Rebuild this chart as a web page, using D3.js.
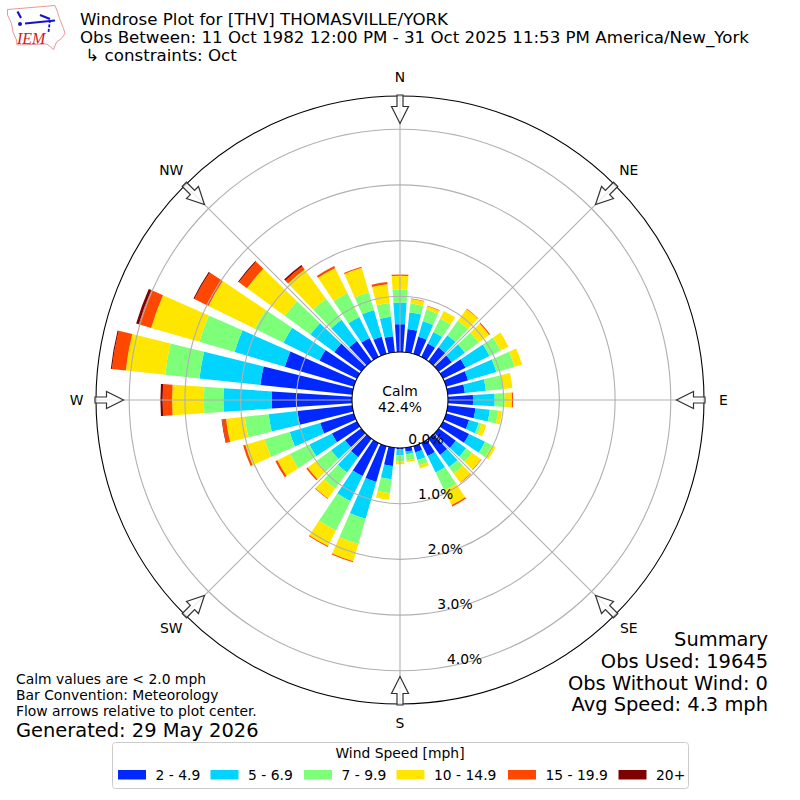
<!DOCTYPE html>
<html>
<head>
<meta charset="utf-8">
<script src="https://cdn.jsdelivr.net/npm/d3@7"></script>
<style>
    html, body { margin: 0; padding: 0; background: #fff; }
    svg { display: block; font-family: "DejaVu Sans", sans-serif; }
</style>
</head>
<body>
<svg id="chart" width="800" height="800"></svg>
<script>
// direction of each bar, degrees clockwise from north
const directions = d3.range(0, 360, 10);

// percent of obs per direction for each speed bin
const bin2to5 = [0.50, 0.42, 0.32, 0.27, 0.31, 0.29, 0.45, 0.41, 0.31, 0.45, 0.50, 0.43, 0.52, 0.38, 0.36, 0.26, 0.12, 0.07,
    0.02, 0.33, 0.67, 0.66, 0.41, 0.36, 0.50, 0.63, 0.99, 1.44, 1.66, 1.29, 0.75, 0.60, 0.45, 0.38, 0.32, 0.29];
const bin5to7 = [0.39, 0.30, 0.29, 0.23, 0.27, 0.29, 0.48, 0.53, 0.38, 0.39, 0.26, 0.18, 0.32, 0.23, 0.27, 0.33, 0.14, 0.05,
    0.11, 0.24, 0.69, 0.50, 0.34, 0.31, 0.45, 0.57, 0.52, 0.87, 1.10, 0.94, 0.72, 0.53, 0.47, 0.42, 0.50, 0.35];
const bin7to10 = [0.23, 0.16, 0.22, 0.27, 0.32, 0.31, 0.22, 0.34, 0.31, 0.18, 0.15, 0.05, 0.14, 0.13, 0.14, 0.36, 0.10, 0.11,
    0.11, 0.25, 0.47, 0.59, 0.36, 0.32, 0.39, 0.47, 0.43, 0.35, 0.62, 0.66, 0.57, 0.57, 0.47, 0.48, 0.33, 0.25];
const bin10to15 = [0.25, 0.08, 0.06, 0.15, 0.26, 0.23, 0.16, 0.14, 0.17, 0.13, 0.07, 0.09, 0.07, 0.20, 0.20, 0.29, 0.06, 0.03,
    0.05, 0.12, 0.32, 0.31, 0.22, 0.20, 0.25, 0.36, 0.34, 0.57, 0.71, 0.90, 0.93, 0.84, 0.65, 0.50, 0.46, 0.34];
const bin15to20 = [0.02, 0.01, 0.01, 0, 0.01, 0.02, 0, 0, 0, 0.02, 0, 0, 0, 0.01, 0.01, 0.03, 0, 0,
    0, 0, 0.02, 0.02, 0.01, 0.03, 0.04, 0.04, 0.07, 0.17, 0.25, 0.23, 0.28, 0.18, 0.07, 0.04, 0.02, 0.04];
const bin20up = [0, 0, 0, 0, 0, 0, 0, 0, 0, 0, 0, 0, 0, 0, 0, 0, 0, 0,
    0, 0, 0, 0, 0, 0, 0, 0, 0.01, 0.04, 0.02, 0.05, 0.02, 0.02, 0.03, 0, 0, 0];

const binLabels = ["2 - 4.9", "5 - 6.9", "7 - 9.9", "10 - 14.9", "15 - 19.9", "20+"];
const binColors = ["#0028ff", "#00d4ff", "#7dff7a", "#ffe600", "#ff4700", "#7f0000"];
const bins = [bin2to5, bin5to7, bin7to10, bin10to15, bin15to20, bin20up];

const radialTicks = [0, 1, 2, 3, 4];
const compass = [["N", 0], ["NE", 45], ["E", 90], ["SE", 135], ["S", 180], ["SW", 225], ["W", 270], ["NW", 315]];

const titleLines = [
    "Windrose Plot for [THV] THOMASVILLE/YORK",
    "Obs Between: 11 Oct 1982 12:00 PM - 31 Oct 2025 11:53 PM America/New_York",
    " \u21b3 constraints: Oct"
];
const noteLines = ["Calm values are < 2.0 mph", "Bar Convention: Meteorology", "Flow arrows relative to plot center."];
const summaryLines = ["Summary", "Obs Used: 19645", "Obs Without Wind: 0", "Avg Speed: 4.3 mph"];

const cx = 400, cy = 400;
const rad = (d) => (d * Math.PI) / 180;
const r = d3.scaleLinear().domain([0, 4.596]).range([48, 304]);
const barWidth = 7.7;

const svg = d3.select("#chart");
const plot = svg.append("g").attr("transform", `translate(${cx},${cy})`);

// stacked bars
const arc = d3.arc();
directions.forEach((dir, i) => {
    let total = 0;
    bins.forEach((bin, b) => {
        const v = bin[i];
        if (v <= 0) return;
        plot.append("path")
            .attr("fill", binColors[b])
            .attr("d", arc({
                innerRadius: r(total),
                outerRadius: r(total + v),
                startAngle: rad(dir - barWidth / 2),
                endAngle: rad(dir + barWidth / 2)
            }));
        total += v;
    });
});

// grid goes over the bars
plot.selectAll("circle.ring")
    .data(radialTicks.slice(1))
    .enter()
    .append("circle")
    .attr("class", "ring")
    .attr("r", (d) => r(d))
    .attr("fill", "none")
    .attr("stroke", "#b0b0b0")
    .attr("stroke-width", 1.1);

plot.selectAll("line.spoke")
    .data(compass)
    .enter()
    .append("line")
    .attr("class", "spoke")
    .attr("x1", (d) => 48 * Math.sin(rad(d[1])))
    .attr("y1", (d) => -48 * Math.cos(rad(d[1])))
    .attr("x2", (d) => 304 * Math.sin(rad(d[1])))
    .attr("y2", (d) => -304 * Math.cos(rad(d[1])))
    .attr("stroke", "#b0b0b0")
    .attr("stroke-width", 1.1);

plot.append("circle").attr("r", 304).attr("fill", "none").attr("stroke", "#000").attr("stroke-width", 1.1);
plot.append("circle").attr("r", 48).attr("fill", "#fff").attr("stroke", "#000").attr("stroke-width", 1.1);

// flow arrows at the rim, pointing at the center
plot.selectAll("path.flow")
    .data(compass)
    .enter()
    .append("path")
    .attr("class", "flow")
    .attr("transform", (d) => `rotate(${d[1]})`)
    .attr("d", "M-3,-305L3,-305L3,-293.5L8.5,-293.5L0,-276.5L-8.5,-293.5L-3,-293.5Z")
    .attr("fill", "#fff")
    .attr("fill-opacity", 0.75)
    .attr("stroke", "#333")
    .attr("stroke-width", 1.2);

// compass labels, the two upper diagonals sit a little higher
plot.selectAll("text.dir")
    .data(compass)
    .enter()
    .append("text")
    .attr("class", "dir")
    .attr("x", (d) => 323.5 * Math.sin(rad(d[1])))
    .attr("y", (d) => -323 * Math.cos(rad(d[1])) - (d[1] === 45 || d[1] === 315 ? 2 : 0))
    .attr("dy", "0.36em")
    .attr("text-anchor", "middle")
    .style("font-size", "13.89px")
    .text((d) => d[0]);

// radial labels sit along the 170 degree line
plot.selectAll("text.rlabel")
    .data(radialTicks)
    .enter()
    .append("text")
    .attr("class", "rlabel")
    .attr("x", (d) => r(d) * Math.sin(rad(170)))
    .attr("y", (d) => -r(d) * Math.cos(rad(170)) - 3)
    .style("font-size", "13.89px")
    .text((d) => d.toFixed(1) + "%");

plot.append("text").attr("y", -4).attr("text-anchor", "middle").style("font-size", "13.89px").text("Calm");
plot.append("text").attr("y", 12).attr("text-anchor", "middle").style("font-size", "13.89px").text("42.4%");

// header
svg.selectAll("text.title")
    .data(titleLines)
    .enter()
    .append("text")
    .attr("class", "title")
    .attr("x", 80)
    .attr("y", (d, i) => 25 + i * 18)
    .attr("xml:space", "preserve")
    .style("white-space", "pre")
    .style("font-size", "16.67px")
    .text((d) => d);

// footer notes
svg.selectAll("text.note")
    .data(noteLines)
    .enter()
    .append("text")
    .attr("class", "note")
    .attr("x", 16)
    .attr("y", (d, i) => 683.8 + i * 15.9)
    .style("font-size", "13.89px")
    .text((d) => d);

svg.append("text").attr("x", 16).attr("y", 737).style("font-size", "19.44px").text("Generated: 29 May 2026");

svg.selectAll("text.summary")
    .data(summaryLines)
    .enter()
    .append("text")
    .attr("class", "summary")
    .attr("x", 768)
    .attr("y", (d, i) => 646 + i * 21.8)
    .attr("text-anchor", "end")
    .style("font-size", "19.44px")
    .text((d) => d);

// legend
const legendX = [118, 210.5, 304, 396.5, 508, 618.5];
const legend = svg.append("g");
legend.append("rect")
    .attr("x", 112.5).attr("y", 742.5).attr("width", 576).attr("height", 46).attr("rx", 3)
    .attr("fill", "#fff").attr("stroke", "#ccc");
legend.append("text")
    .attr("x", 400).attr("y", 758).attr("text-anchor", "middle")
    .style("font-size", "13.89px").text("Wind Speed [mph]");
binLabels.forEach((label, i) => {
    legend.append("rect")
        .attr("x", legendX[i]).attr("y", 770).attr("width", 28).attr("height", 9.5)
        .attr("fill", binColors[i]);
    legend.append("text")
        .attr("x", legendX[i] + 37.5).attr("y", 779.5)
        .style("font-size", "13.89px").text(label);
});

// IEM logo
const logo = svg.append("g");
logo.append("path")
    .attr("d", "M7.5,9.5L55,5.5L57.5,12L59.5,18.5L63.5,28.5L65,33.5L61.5,38.5L56.5,42L53.5,49.5L47,44L17,45L16.5,40L13,32L11.5,23.5L7.5,15Z")
    .attr("fill", "#fff").attr("stroke", "#ea8a8a").attr("stroke-width", 0.9);
logo.append("path")
    .attr("d", "M25,23.5L55,20.5")
    .attr("fill", "none").attr("stroke", "#1414c8").attr("stroke-width", 2);
logo.append("path")
    .attr("d", "M17.5,11.5L21,18M40,15L50,19")
    .attr("fill", "none").attr("stroke", "#1414c8").attr("stroke-width", 2.2);
logo.append("path")
    .attr("d", "M50,20L48.5,32")
    .attr("fill", "none").attr("stroke", "#1414c8").attr("stroke-width", 1.8).attr("stroke-dasharray", "3,1.5");
logo.append("circle").attr("cx", 20).attr("cy", 24).attr("r", 2).attr("fill", "#1414c8");
logo.append("text")
    .attr("x", 17).attr("y", 44)
    .style("font-family", "'Liberation Serif', serif").style("font-style", "italic")
    .style("font-size", "16px").attr("fill", "#d02020").text("IEM");
</script>
</body>
</html>
